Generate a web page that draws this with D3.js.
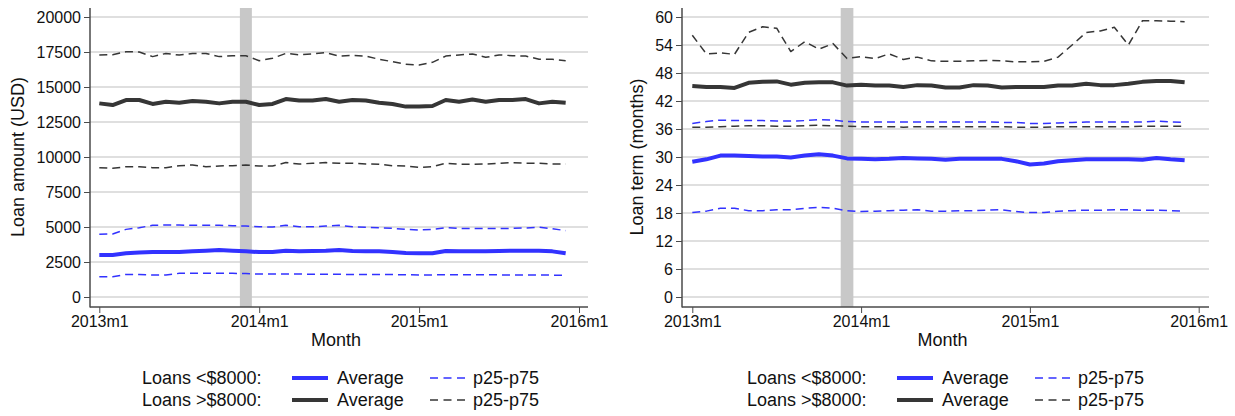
<!DOCTYPE html>
<html>
<head>
<meta charset="utf-8">
<script src="https://cdn.jsdelivr.net/npm/d3@7"></script>
<style>
  body { margin: 0; background: #fff; }
  svg { font-family: "Liberation Sans", Arial, sans-serif; }
</style>
</head>
<body>
<svg id="chart" width="1235" height="416"></svg>
<script>
// months since 2013m1 (0 = 2013m1 ... 35 = 2015m12)
var months = d3.range(36);
var xTicks = [0, 12, 24, 36];
var xTickLabels = ['2013m1', '2014m1', '2015m1', '2016m1'];
var shadeMonth = 11; // 2013m12

var amtTicks = [0, 2500, 5000, 7500, 10000, 12500, 15000, 17500, 20000];
var termTicks = [0, 6, 12, 18, 24, 30, 36, 42, 48, 54, 60];

// loan amount (USD)
var amtHiP75 = [17290,17300,17520,17500,17170,17400,17280,17400,17400,17170,17230,17230,16880,17050,17400,17300,17360,17450,17210,17260,17210,16980,16810,16620,16570,16760,17210,17290,17360,17120,17290,17240,17210,16980,16980,16880];
var amtHiAvg = [13830,13710,14070,14070,13790,13950,13880,14000,13950,13830,13950,13950,13710,13790,14140,14030,14030,14140,13950,14070,14030,13880,13790,13600,13600,13640,14070,13950,14100,13950,14070,14070,14140,13830,13950,13880];
var amtHiP25 = [9240,9190,9310,9310,9240,9240,9380,9430,9310,9360,9380,9430,9360,9360,9600,9500,9550,9600,9550,9550,9500,9480,9380,9360,9260,9310,9550,9480,9480,9500,9550,9600,9550,9550,9500,9500];
var amtLoP75 = [4480,4500,4830,4950,5120,5140,5140,5120,5120,5120,5090,5070,5020,5000,5120,5020,5020,5070,5120,5020,4980,4950,4900,4830,4790,4830,4950,4900,4900,4900,4900,4900,4930,4980,4880,4740];
var amtLoAvg = [3000,3000,3120,3170,3210,3210,3210,3260,3310,3360,3310,3260,3210,3210,3310,3260,3290,3310,3360,3290,3260,3260,3210,3150,3120,3120,3280,3260,3260,3260,3290,3310,3310,3310,3260,3120];
var amtLoP25 = [1450,1450,1610,1610,1570,1570,1690,1690,1690,1690,1690,1670,1640,1640,1640,1640,1620,1620,1620,1600,1600,1600,1600,1590,1580,1580,1590,1590,1590,1590,1580,1580,1580,1570,1560,1550];

// loan term (months)
var termHiP75 = [56.1,52.1,52.3,52.0,56.7,57.9,57.6,52.6,54.7,53.1,54.3,51.1,51.5,51.1,52.1,50.9,51.4,50.6,50.5,50.5,50.6,50.7,50.6,50.4,50.4,50.5,51.4,54.0,56.7,57.0,57.8,54.0,59.2,59.2,59.1,59.0];
var termHiAvg = [45.2,45.0,45.0,44.8,45.9,46.1,46.2,45.5,45.9,46.0,46.0,45.3,45.5,45.3,45.3,45.0,45.4,45.3,44.9,44.9,45.4,45.3,44.9,45.0,45.0,45.0,45.3,45.3,45.7,45.4,45.4,45.7,46.1,46.3,46.3,46.0];
var termLoP75 = [37.2,37.6,37.9,37.8,37.8,37.8,37.7,37.7,37.8,38.0,37.9,37.6,37.5,37.5,37.5,37.5,37.5,37.5,37.5,37.5,37.5,37.5,37.4,37.4,37.2,37.2,37.3,37.4,37.5,37.5,37.5,37.5,37.5,37.7,37.5,37.4];
var termHiP25 = [36.4,36.4,36.5,36.6,36.7,36.7,36.6,36.6,36.7,36.8,36.7,36.6,36.5,36.5,36.5,36.4,36.5,36.5,36.5,36.5,36.5,36.5,36.5,36.4,36.4,36.4,36.5,36.5,36.5,36.5,36.5,36.5,36.6,36.6,36.6,36.6];
var termLoAvg = [29.0,29.5,30.3,30.3,30.2,30.1,30.1,29.9,30.3,30.6,30.3,29.7,29.6,29.5,29.6,29.8,29.7,29.6,29.4,29.6,29.6,29.6,29.6,29.1,28.4,28.6,29.1,29.3,29.5,29.5,29.5,29.5,29.4,29.8,29.5,29.3];
var termLoP25 = [18.1,18.4,19.0,19.0,18.5,18.5,18.7,18.7,19.0,19.2,19.0,18.5,18.3,18.4,18.5,18.6,18.7,18.4,18.4,18.5,18.5,18.6,18.7,18.3,18.1,18.1,18.4,18.5,18.6,18.6,18.7,18.7,18.6,18.6,18.5,18.4];

var BLUE = '#3232ff', DARK = '#363636', GRID = '#d4d4d4', AXIS = '#4a4a4a';

var svg = d3.select('#chart');

function panel(opt) {
    var g = svg.append('g');
    var x = d3.scaleLinear().domain([0, 36]).range([opt.x0, opt.x1]);
    var y = d3.scaleLinear().domain(opt.yDomain).range([297, 17]);

    // gridlines
    g.selectAll('line.grid').data(opt.yTicks).enter().append('line')
        .attr('class', 'grid')
        .attr('x1', opt.left).attr('x2', opt.right)
        .attr('y1', function(d) { return y(d); })
        .attr('y2', function(d) { return y(d); })
        .attr('stroke', GRID).attr('stroke-width', 1.5);

    // shaded month
    g.append('rect')
        .attr('x', x(shadeMonth - 0.45))
        .attr('width', x(shadeMonth + 0.45) - x(shadeMonth - 0.45))
        .attr('y', 8).attr('height', 299)
        .attr('fill', '#c8c8c8');

    var line = d3.line()
        .x(function(d, i) { return x(months[i]); })
        .y(function(d) { return y(d); });

    opt.series.forEach(function(s) {
        g.append('path')
            .datum(s.data)
            .attr('d', line)
            .attr('fill', 'none')
            .attr('stroke', s.color)
            .attr('stroke-width', s.dash ? 1.5 : 4)
            .attr('stroke-dasharray', s.dash ? '8,5' : null)
            .attr('stroke-linejoin', 'round');
    });

    // axes
    var yAxis = d3.axisLeft(y).tickValues(opt.yTicks).tickSize(6).tickPadding(3)
        .tickFormat(d3.format('d'));
    var ya = g.append('g').attr('transform', 'translate(' + opt.left + ',0)').call(yAxis);
    var xAxis = d3.axisBottom(x).tickValues(xTicks).tickSize(6).tickPadding(3)
        .tickFormat(function(d, i) { return xTickLabels[i]; });
    var xa = g.append('g').attr('transform', 'translate(0,307)').call(xAxis);
    [ya, xa].forEach(function(a) {
        a.select('.domain').remove();
        a.selectAll('.tick line').attr('stroke', AXIS);
        a.selectAll('.tick text').attr('fill', '#111').style('font-size', '16px')
            .style('font-family', '"Liberation Sans", Arial, sans-serif');
    });
    g.append('line').attr('x1', opt.left).attr('x2', opt.left).attr('y1', 8).attr('y2', 307.5)
        .attr('stroke', AXIS).attr('stroke-width', 1.5);
    g.append('line').attr('x1', opt.left).attr('x2', opt.right).attr('y1', 307).attr('y2', 307)
        .attr('stroke', AXIS).attr('stroke-width', 1.5);

    // titles
    g.append('text')
        .attr('transform', 'translate(' + opt.titleX + ',157) rotate(-90)')
        .attr('text-anchor', 'middle').attr('dy', '0.35em')
        .style('font-size', '18px').attr('fill', '#111')
        .text(opt.yTitle);
    g.append('text')
        .attr('x', (opt.left + opt.right) / 2 - 3).attr('y', 346)
        .attr('text-anchor', 'middle')
        .style('font-size', '18px').attr('fill', '#111')
        .text('Month');

    // legend
    var rows = [
        { label: 'Loans <$8000:', color: BLUE, y: 378 },
        { label: 'Loans >$8000:', color: DARK, y: 400 }
    ];
    rows.forEach(function(r) {
        var lx = opt.legendX;
        g.append('text').attr('x', lx).attr('y', r.y).attr('dy', '0.35em')
            .style('font-size', '18px').attr('fill', '#111').text(r.label);
        g.append('line').attr('x1', lx + 150).attr('x2', lx + 186)
            .attr('y1', r.y).attr('y2', r.y)
            .attr('stroke', r.color).attr('stroke-width', 4);
        g.append('text').attr('x', lx + 195).attr('y', r.y).attr('dy', '0.35em')
            .style('font-size', '18px').attr('fill', '#111').text('Average');
        g.append('line').attr('x1', lx + 288).attr('x2', lx + 323)
            .attr('y1', r.y).attr('y2', r.y)
            .attr('stroke', r.color).attr('stroke-width', 1.5)
            .attr('stroke-dasharray', '8,5.5');
        g.append('text').attr('x', lx + 331).attr('y', r.y).attr('dy', '0.35em')
            .style('font-size', '18px').attr('fill', '#111').text('p25-p75');
    });
}

panel({
    x0: 99.3, x1: 579, left: 90, right: 588,
    yDomain: [0, 20000], yTicks: amtTicks,
    yTitle: 'Loan amount (USD)', titleX: 18, legendX: 142,
    series: [
        { data: amtHiP75, color: DARK, dash: true },
        { data: amtHiAvg, color: DARK, dash: false },
        { data: amtHiP25, color: DARK, dash: true },
        { data: amtLoP75, color: BLUE, dash: true },
        { data: amtLoAvg, color: BLUE, dash: false },
        { data: amtLoP25, color: BLUE, dash: true }
    ]
});

panel({
    x0: 692.3, x1: 1198.7, left: 682, right: 1209,
    yDomain: [0, 60], yTicks: termTicks,
    yTitle: 'Loan term (months)', titleX: 637, legendX: 747,
    series: [
        { data: termHiP75, color: DARK, dash: true },
        { data: termHiAvg, color: DARK, dash: false },
        { data: termHiP25, color: DARK, dash: true },
        { data: termLoP75, color: BLUE, dash: true },
        { data: termLoAvg, color: BLUE, dash: false },
        { data: termLoP25, color: BLUE, dash: true }
    ]
});
</script>
</body>
</html>
